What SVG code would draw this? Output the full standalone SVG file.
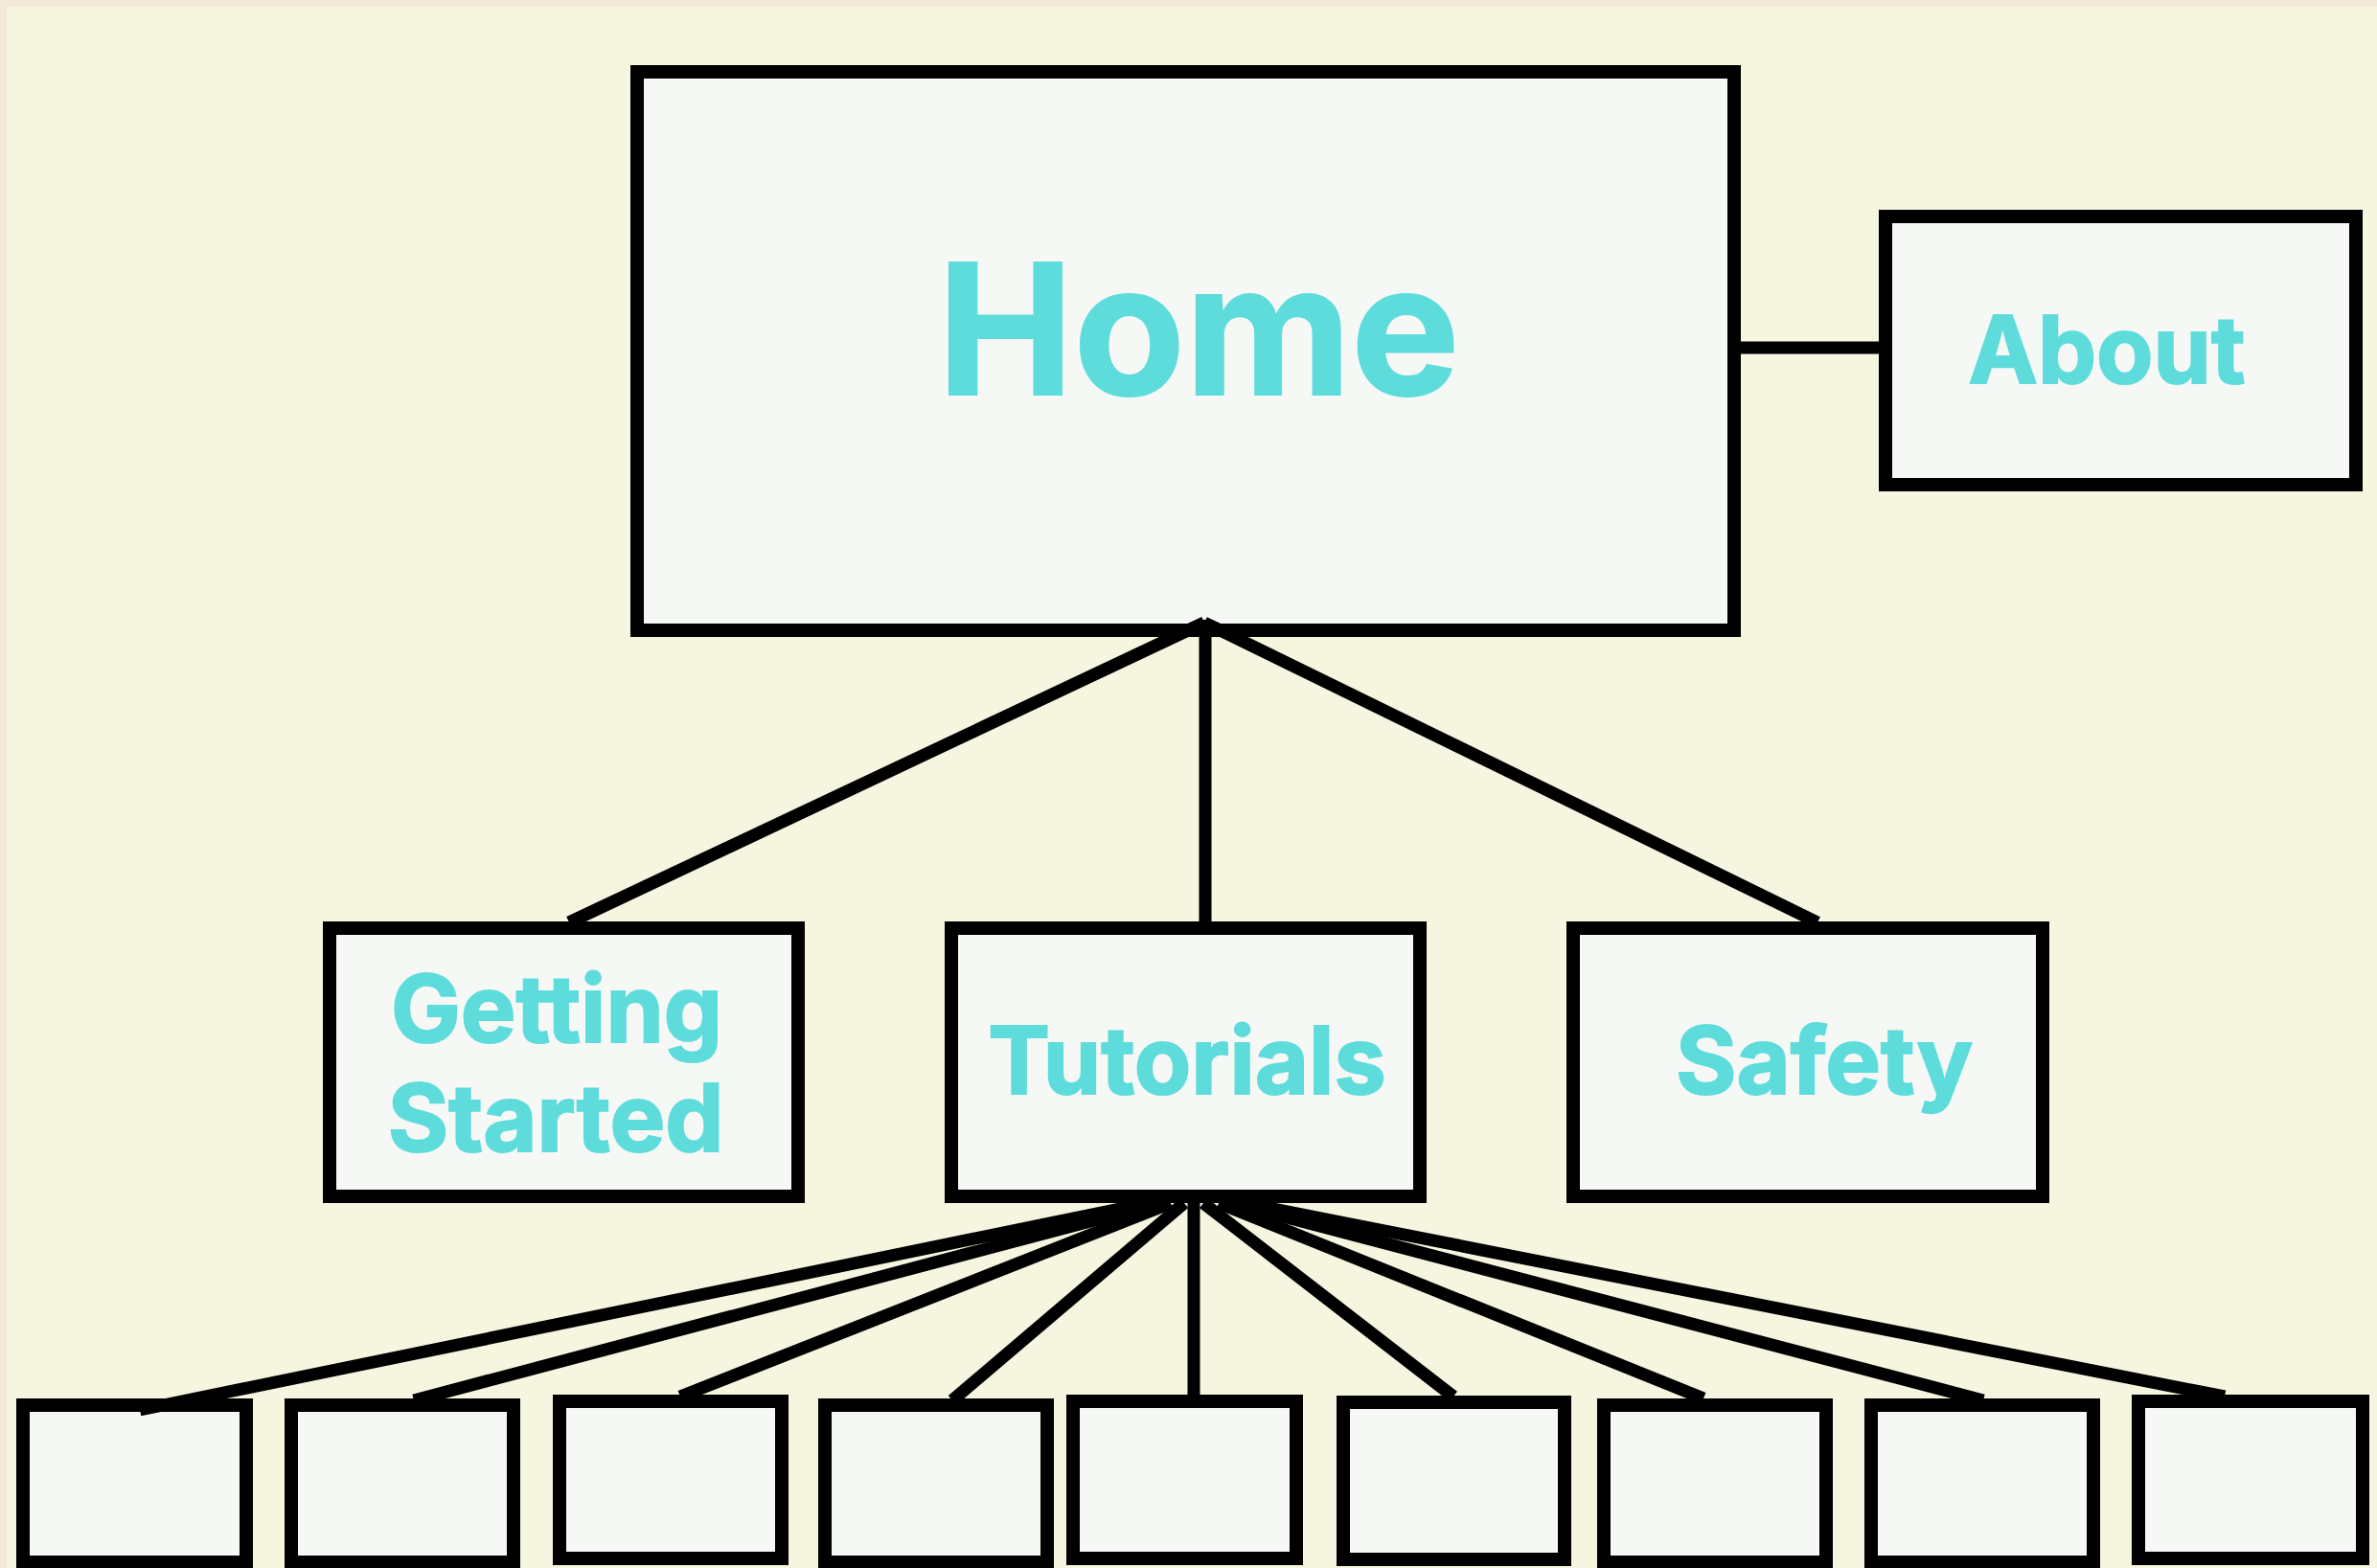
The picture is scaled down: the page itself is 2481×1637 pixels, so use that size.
<svg xmlns="http://www.w3.org/2000/svg" width="2481" height="1637" viewBox="0 0 2481 1637">
<style>
.box{fill:#f6f8f6;stroke:#000;stroke-width:14}
.lbl{fill:#5edcdc;stroke:#5edcdc;stroke-width:2;font-family:Inter,"Liberation Sans",Arial,sans-serif;font-weight:700;text-anchor:middle}
.edge{stroke:#000;stroke-width:13;fill:none;stroke-linecap:butt}
</style>
<rect x="0" y="0" width="2481" height="1637" fill="#f3e9d8"/>
<rect x="7" y="7" width="2474" height="1630" fill="#f5f5e0"/>
<g id="home">
<rect class="box" x="665" y="75" width="1145" height="583"/>
<text class="lbl" x="1251" y="412" font-size="190">Home</text>
</g>
<g id="about">
<rect class="box" x="1968" y="226" width="491" height="280"/>
<text class="lbl" x="2199" y="400" font-size="97">About</text>
</g>
<g id="getting-started">
<rect class="box" x="344" y="969" width="489" height="280"/>
<text class="lbl" x="581" y="1088" font-size="97">Getting</text>
<text class="lbl" x="580" y="1202" font-size="97">Started</text>
</g>
<g id="tutorials">
<rect class="box" x="993" y="969" width="489" height="280"/>
<text class="lbl" x="1239" y="1142" font-size="97">Tutorials</text>
</g>
<g id="safety">
<rect class="box" x="1642" y="969" width="490" height="280"/>
<text class="lbl" x="1904" y="1142" font-size="97">Safety</text>
</g>
<g id="page-1"><rect class="box" x="24" y="1467" width="233" height="164"/></g>
<g id="page-2"><rect class="box" x="304" y="1467" width="232" height="164"/></g>
<g id="page-3"><rect class="box" x="584" y="1463" width="232" height="164"/></g>
<g id="page-4"><rect class="box" x="861" y="1467" width="232" height="164"/></g>
<g id="page-5"><rect class="box" x="1120" y="1463" width="233" height="164"/></g>
<g id="page-6"><rect class="box" x="1402" y="1464" width="231" height="164"/></g>
<g id="page-7"><rect class="box" x="1674" y="1467" width="232" height="164"/></g>
<g id="page-8"><rect class="box" x="1953" y="1467" width="232" height="164"/></g>
<g id="page-9"><rect class="box" x="2232" y="1463" width="234" height="164"/></g>
<g id="connectors">
<line class="edge" x1="1816" y1="363" x2="1962" y2="363"/>
<line class="edge" x1="1257" y1="650" x2="594" y2="963"/>
<line class="edge" x1="1258" y1="647" x2="1258" y2="963"/>
<line class="edge" x1="1257" y1="650" x2="1897" y2="963"/>
<line class="edge" x1="1198" y1="1256" x2="146" y2="1472"/>
<line class="edge" x1="1210" y1="1256" x2="432" y2="1462"/>
<line class="edge" x1="1222" y1="1256" x2="710" y2="1458"/>
<line class="edge" x1="1236" y1="1256" x2="994" y2="1462"/>
<line class="edge" x1="1246" y1="1256" x2="1246" y2="1458"/>
<line class="edge" x1="1256" y1="1256" x2="1517" y2="1458"/>
<line class="edge" x1="1272" y1="1256" x2="1778" y2="1460"/>
<line class="edge" x1="1286" y1="1256" x2="2070" y2="1462"/>
<line class="edge" x1="1298" y1="1256" x2="2322" y2="1458"/>
</g>
</svg>
